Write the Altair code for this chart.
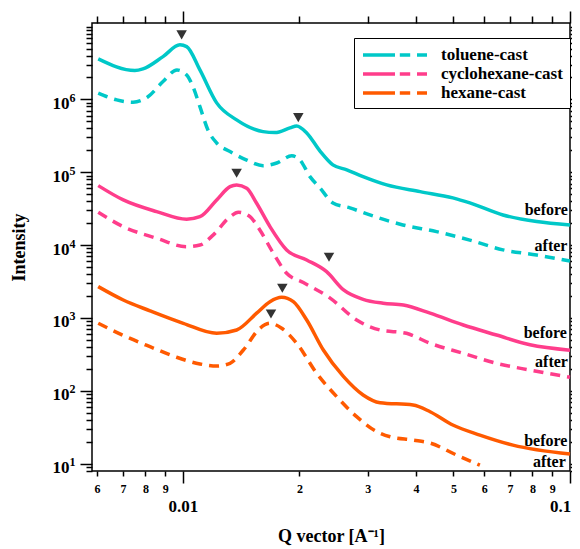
import altair as alt
import pandas as pd

# ---------------- data ----------------
SERIES = ["toluene-cast", "cyclohexane-cast", "hexane-cast"]
COLORS = ["#00C8C8", "#FF3D8B", "#FF5A00"]

tol_b_q = [0.00604, 0.00751, 0.00788, 0.00888, 0.00982, 0.01022, 0.01106, 0.01222, 0.01376, 0.0161,
           0.01729, 0.0189, 0.01967, 0.02088, 0.0226, 0.0244, 0.0265, 0.0292, 0.0336, 0.041,
           0.0498, 0.0551, 0.0671, 0.082, 0.1]
tol_b_I = [3.6e6, 2.49e6, 2.62e6, 3.87e6, 5.61e6, 5.31e6, 2.54e6, 8.96e5, 5.23e5, 3.61e5,
           3.50e5, 4.06e5, 4.33e5, 3.47e5, 1.95e5, 1.26e5, 1.08e5, 8.7e4, 6.7e4, 5.42e4,
           4.44e4, 3.79e4, 2.59e4, 2.10e4, 1.89e4]

tol_a_q = [0.00604, 0.00674, 0.00743, 0.00812, 0.00888, 0.00965, 0.01022, 0.01061, 0.01106, 0.0116,
           0.01222, 0.01323, 0.01461, 0.0161, 0.01747, 0.0191, 0.02006, 0.02129, 0.0226, 0.0244,
           0.027, 0.0304, 0.037, 0.0452, 0.0551, 0.0671, 0.082, 0.1]
tol_a_I = [1.22e6, 9.85e5, 9.15e5, 1.09e6, 1.76e6, 2.54e6, 2.17e6, 1.50e6, 7.96e5, 3.81e5,
           2.52e5, 1.92e5, 1.47e5, 1.23e5, 1.34e5, 1.68e5, 1.47e5, 8.7e4, 6.08e4, 3.79e4,
           3.24e4, 2.59e4, 1.89e4, 1.53e4, 1.17e4, 8.6e3, 7.3e3, 6.05e3]

cyc_b_q = [0.00604, 0.00701, 0.00855, 0.01022, 0.01106, 0.01222, 0.01323, 0.01376, 0.01461, 0.0155,
           0.01678, 0.01853, 0.02088, 0.0235, 0.026, 0.0292, 0.0329, 0.0371, 0.0435, 0.053,
           0.0646, 0.0788, 0.1]
cyc_b_I = [6.55e4, 4.17e4, 2.88e4, 2.26e4, 2.45e4, 4.17e4, 6.34e4, 6.69e4, 6.03e4, 3.75e4,
           1.79e4, 8.57e3, 6.24e3, 4.31e3, 2.42e3, 1.8e3, 1.59e3, 1.50e3, 1.16e3, 798,
           582, 427, 360]

cyc_a_q = [0.00604, 0.00701, 0.00855, 0.01022, 0.01106, 0.01198, 0.01323, 0.0139, 0.0149, 0.0158,
           0.01712, 0.01853, 0.02046, 0.024, 0.0281, 0.0323, 0.0378, 0.0435, 0.053, 0.0646,
           0.0788, 0.1]
cyc_a_I = [2.82e4, 1.79e4, 1.24e4, 9.5e3, 1.0e4, 1.38e4, 2.45e4, 2.82e4, 2.45e4, 1.61e4,
           7.71e3, 4.10e3, 3.06e3, 1.87e3, 935, 682, 614, 448, 326, 238,
           192, 153]

hex_b_q = [0.00604, 0.00701, 0.00822, 0.01002, 0.01222, 0.01376, 0.0155, 0.01678, 0.01799, 0.01928,
           0.02088, 0.02305, 0.026, 0.0292, 0.0323, 0.0393, 0.0435, 0.0498, 0.0585, 0.0712, 0.1]
hex_b_I = [2.69e3, 1.76e3, 1.25e3, 843, 614, 682, 1.16e3, 1.67e3, 1.92e3, 1.67e3,
           935, 362, 156, 87.4, 68.4, 63.7, 51.5, 33.8, 24.6, 17.9, 13.5]

hex_a_q = [0.00604, 0.00701, 0.00822, 0.00963, 0.01106, 0.01222, 0.01323, 0.01432, 0.0158, 0.01678,
           0.01799, 0.01967, 0.02216, 0.02496, 0.0281, 0.0317, 0.0343, 0.0394, 0.0435, 0.0509, 0.0585]
hex_a_I = [843, 574, 402, 288, 233, 218, 238, 362, 720, 843,
           720, 448, 173, 82.8, 44.0, 27.4, 23.3, 21.0, 19.1, 13.1, 9.5]

# peak markers
mark_q = [0.00992, 0.01986, 0.01376, 0.02384, 0.01806, 0.01688]
mark_I = [7.69e6, 5.62e5, 9.68e4, 6.81e3, 2.55e3, 1.13e3]

# before / after annotations
lab_text = ["before", "after", "before", "after", "before", "after"]
lab_q = [0.0988, 0.0985, 0.0982, 0.0988, 0.0985, 0.0975]
lab_I = [3.01e4, 9.8e3, 614, 245, 20.4, 10.4]

# tick values
x_ticks = [0.006, 0.007, 0.008, 0.009, 0.01, 0.02, 0.03, 0.04, 0.05, 0.06, 0.07, 0.08, 0.09, 0.1]
y_ticks = [8, 9] + [k * 10 ** d for d in range(1, 7) for k in range(1, 10)] + [1e7]
y_decades = [10, 100, 1000, 10000, 100000, 1000000]

# ---------------- tables ----------------
def build(pairs):
    rows = []
    for name, qs, Is in pairs:
        for q, I in zip(qs, Is):
            rows.append({"series": name, "q": q, "I": I})
    return pd.DataFrame(rows)

df_before = build([(SERIES[0], tol_b_q, tol_b_I), (SERIES[1], cyc_b_q, cyc_b_I), (SERIES[2], hex_b_q, hex_b_I)])
df_after = build([(SERIES[0], tol_a_q, tol_a_I), (SERIES[1], cyc_a_q, cyc_a_I), (SERIES[2], hex_a_q, hex_a_I)])
df_marks = pd.DataFrame({"q": mark_q, "I": mark_I})
df_labels = pd.DataFrame({"q": lab_q, "I": lab_I, "t": lab_text})

FONT = "Liberation Serif"
xscale = alt.Scale(type="log", domain=[0.00582, 0.1], nice=False)
yscale = alt.Scale(type="log", domain=[7.9, 1.12e7], nice=False)
cscale = alt.Scale(domain=SERIES, range=COLORS)

X_MAJOR = "(datum.value > 0.0095 && datum.value < 0.0105) || datum.value > 0.095"
X_LAST = "datum.value > 0.095"
Y_DEC = "abs(log(datum.value)/LN10 - round(log(datum.value)/LN10)) < 0.01"
Y_MAJOR = f"datum.value > 9.5 && datum.value < 2e6 && {Y_DEC}"

x_bottom = alt.Axis(
    orient="bottom", values=x_ticks, domain=False, grid=False,
    labelExpr=("(datum.value > 0.0095 && datum.value < 0.0105) ? '0.01' : datum.value > 0.095 ? '0.1' : "
               "datum.value < 0.01 ? format(datum.value*1000, '.0f') : format(datum.value*100, '.0f')"),
    labelFont=FONT, labelFontWeight="bold", labelColor="black",
    labelFontSize={"condition": {"test": X_MAJOR, "value": 17}, "value": 12},
    labelPadding={"condition": {"test": X_MAJOR, "value": 15}, "value": 7},
    labelOffset={"condition": {"test": X_LAST, "value": -10}, "value": 0},
    tickSize={"condition": {"test": X_MAJOR, "value": 12}, "value": 5},
    labelOverlap=False, labelFlush=False,
    title="Q vector [A⁻¹]", titleFont=FONT, titleFontSize=18, titleFontWeight="bold",
    titleColor="black", titlePadding=13,
)
# "10" part of the decade labels, with the long/short ticks
y_left = alt.Axis(
    orient="left", values=y_ticks, domain=False, grid=False,
    labelExpr=f"({Y_MAJOR}) ? '10' : ''",
    labelFont=FONT, labelFontWeight="bold", labelFontSize=17, labelColor="black",
    tickSize={"condition": {"test": Y_MAJOR, "value": 12}, "value": 6},
    labelPadding=11, labelOffset=4, labelOverlap=False, labelFlush=False,
    title="Intensity", titleFont=FONT, titleFontSize=18, titleFontWeight="bold",
    titleColor="black", titlePadding=24,
)
# exponent part of the decade labels
y_left_exp = alt.Axis(
    orient="left", values=y_decades, domain=False, grid=False, ticks=False,
    labelExpr="format(round(log(datum.value)/LN10), 'd')",
    labelFont=FONT, labelFontWeight="bold", labelFontSize=12, labelColor="black",
    labelPadding=17, labelOffset=-2, labelOverlap=False, labelFlush=False, title=None,
)
x_top = alt.Axis(
    orient="top", values=x_ticks, domain=False, grid=False, labels=False, title=None,
    tickSize={"condition": {"test": X_MAJOR, "value": 12}, "value": 7},
)
y_right = alt.Axis(
    orient="right", values=y_ticks, domain=False, grid=False, labels=False, title=None,
    tickSize={"condition": {"test": Y_MAJOR, "value": 11}, "value": 6},
)

legend = alt.Legend(
    title=None, orient="none", legendX=262, legendY=15,
    strokeColor="black", fillColor="white", padding=7,
    symbolType="M-4,0H0M0.6,0H1.9M2.75,0H4", symbolSize=256, symbolStrokeWidth=3.5,
    symbolFillColor="transparent", symbolOffset=24, labelOffset=36,
    labelFont=FONT, labelFontSize=17, labelFontWeight="bold", labelColor="black",
    rowPadding=1,
)

solid = alt.Chart(df_before).mark_line(strokeWidth=3.5, interpolate="monotone").encode(
    x=alt.X("q:Q", scale=xscale, axis=x_bottom),
    y=alt.Y("I:Q", scale=yscale, axis=y_left),
    color=alt.Color("series:N", scale=cscale, legend=legend, sort=SERIES),
)
dashed = alt.Chart(df_after).mark_line(strokeWidth=3.5, interpolate="monotone", strokeDash=[10, 7]).encode(
    x=alt.X("q:Q", scale=xscale, axis=None),
    y=alt.Y("I:Q", scale=yscale, axis=y_left_exp),
    color=alt.Color("series:N", scale=cscale, legend=legend, sort=SERIES),
)
tri = alt.Chart(df_marks).mark_point(shape="triangle-down", filled=True, size=110, color="#333333", opacity=1).encode(
    x=alt.X("q:Q", scale=xscale, axis=x_top),
    y=alt.Y("I:Q", scale=yscale, axis=y_right),
)
txt = alt.Chart(df_labels).mark_text(align="right", baseline="middle", font=FONT, fontSize=16,
                                      fontWeight="bold", color="black").encode(
    x=alt.X("q:Q", scale=xscale, axis=None),
    y=alt.Y("I:Q", scale=yscale, axis=None),
    text="t:N",
)

chart = alt.layer(solid, dashed, tri, txt).resolve_axis(x="independent", y="independent").properties(
    width=478, height=448,
    autosize=alt.AutoSizeParams(type="none"),
    padding={"left": 84, "top": 15, "right": 2, "bottom": 76},
).configure_view(stroke="black", strokeWidth=1.5).configure_axis(
    tickColor="black", tickWidth=1.5
)

chart.save("out.html", embed_options={"renderer": "svg", "actions": False})
